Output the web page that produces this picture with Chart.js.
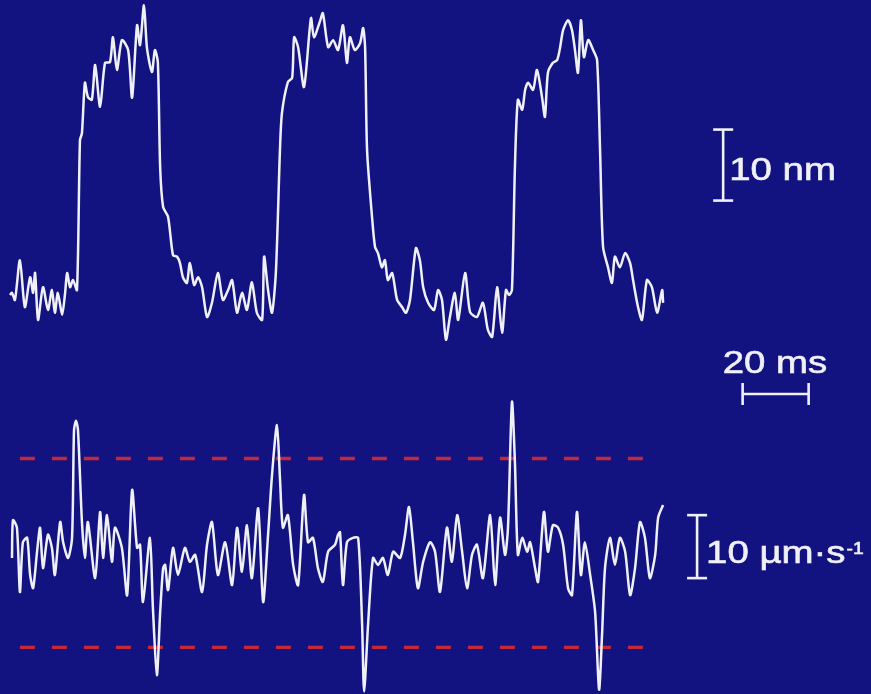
<!DOCTYPE html>
<html>
<head>
<meta charset="utf-8">
<script src="https://cdn.jsdelivr.net/npm/chart.js@4/dist/chart.umd.min.js"></script>
<style>
  html, body { margin: 0; padding: 0; background: #121380; }
  canvas { display: block; }
</style>
</head>
<body>
<canvas id="trace" width="871" height="694"></canvas>
<script>
// Bead displacement (time in ms, position in nm)
const displacement = [
  [0,0.7],[0.6,1.0],[1.5,0],[3.0,5.6],[4.5,-1.0],[6.1,3.2],[7.0,1.0],[7.6,3.8],[8.5,-2.8],[10.0,1.8],
  [11.5,-1.4],[12.7,1.4],[13.6,-1.8],[14.5,1.0],[15.8,-2.1],[16.7,1.0],[17.3,3.8],[18.2,1.8],[19.1,2.8],[20.3,1.4],
  [21.2,22.5],[21.8,23.5],[22.7,30.6],[23.6,28.6],[24.8,28.2],[25.8,33.1],[27.3,27.2],[28.8,33.4],[30.3,33.5],[31.2,37.0],
  [32.4,32.4],[33.9,36.6],[35.8,35.2],[37.0,28.5],[38.5,38.7],[39.4,35.9],[40.6,41.5],[41.5,35.5],[43.0,32.1],[43.9,35.2],
  [44.8,33.5],[45.5,18.7],[46.4,13.1],[47.9,11.7],[49.4,6.3],[50.6,6.1],[51.5,5.2],[52.4,3.2],[53.6,2.4],[54.5,5.2],
  [55.8,2.1],[57.0,3.2],[58.2,1.8],[59.7,-2.4],[61.2,-0.4],[63.0,3.8],[64.5,0],[66.1,1.4],[67.3,2.8],[68.8,-1.8],
  [70.3,1.0],[71.8,-1.4],[73.3,2.5],[74.8,-1.8],[76.4,-2.8],[77.0,6.1],[78.2,1.4],[79.4,-1.8],[80.6,4.2],[81.8,21.1],
  [82.4,26.3],[84.2,30.7],[85.5,31.3],[86.1,37.0],[87.3,35.6],[89.1,30.0],[91.2,39.7],[92.1,37.0],[93.9,39.2],[94.8,40.4],
  [96.4,35.6],[97.9,36.6],[99.4,35.2],[100.9,38.7],[102.1,33.4],[103.0,37.0],[104.5,35.2],[106.1,36.2],[107.0,38.3],[107.6,35.6],
  [108.2,21.1],[109.7,11.7],[110.6,7.5],[111.5,6.6],[112.7,4.6],[113.6,5.6],[114.5,2.8],[115.8,3.8],[117.3,0],[118.8,-1.0],
  [120.0,-1.8],[121.2,0],[123.0,7.3],[124.2,5.6],[125.2,1.8],[126.7,-0.4],[128.5,-1.4],[129.7,1.4],[130.9,0],[132.1,-5.6],
  [133.3,-2.4],[134.8,1.0],[135.8,-2.8],[137.9,3.8],[139.4,-1.7],[141.5,-2.4],[143.3,-0.4],[144.8,-4.2],[146.1,-5.2],[147.6,1.8],
  [149.1,-4.6],[150.3,1.4],[151.2,0.7],[152.1,1.4],[153.0,18.7],[153.9,28.2],[155.2,26.8],[156.1,29.6],[157.0,30.6],[158.5,29.6],
  [159.7,32.4],[161.2,28.6],[162.1,25.8],[163.0,32.0],[164.5,33.4],[165.8,33.8],[166.7,35.6],[167.6,38.0],[169.1,39.4],[170.3,38.0],
  [171.2,35.2],[172.1,32.0],[173.0,39.4],[173.9,34.2],[175.2,36.6],[176.7,35.2],[177.9,33.8],[178.8,21.1],[179.7,7.5],[181.2,4.6],
  [182.4,2.4],[183.3,6.1],[184.8,4.6],[186.4,6.6],[187.9,5.2],[188.8,2.8],[190.3,-1.0],[191.5,-2.8],[193.0,2.8],[194.5,1.8],
  [196.1,-1.8],[197.6,1.4],[197.9,-0.4]
];

// Bead velocity (time in ms, velocity in µm·s⁻¹)
const velocity = [
  [0.6,-0.8],[0.9,5.2],[2.1,4.0],[3.0,-6.2],[3.9,1.7],[5.2,2.4],[6.1,-3.5],[7.0,-5.6],[8.2,0.2],[9.1,4.0],
  [10.0,-2.4],[11.5,2.9],[12.7,0.8],[13.6,-3.5],[15.2,4.9],[16.1,1.7],[17.6,-0.8],[18.8,2.4],[19.4,19.5],[20.0,21.0],
  [20.6,19.5],[21.8,4.9],[22.7,-0.8],[23.6,4.9],[25.8,-4.0],[27.3,6.5],[28.2,-0.8],[29.4,6.0],[30.9,-1.4],[31.8,4.0],
  [33.9,0.8],[35.5,-6.7],[37.0,10.0],[38.5,0.8],[39.4,1.3],[40.3,-7.8],[42.4,2.4],[43.3,-8.7],[44.5,-19.4],[45.5,-9.4],
  [46.4,-2.4],[47.0,-1.9],[47.9,-5.9],[49.4,0.8],[50.9,-3.5],[53.0,0.8],[54.5,-1.4],[56.1,-0.3],[58.2,-6.2],[59.7,1.3],
  [61.2,4.9],[63.0,-3.5],[65.2,1.7],[67.3,-5.1],[68.8,4.0],[70.3,-3.0],[71.8,4.4],[73.3,-4.0],[75.2,7.1],[76.7,-7.8],
  [78.2,2.9],[79.4,12.4],[80.9,20.3],[81.8,11.9],[82.7,4.0],[84.2,6.0],[85.8,-1.9],[87.3,-5.1],[89.1,9.2],[90.3,1.7],
  [91.8,2.4],[93.3,-2.4],[94.8,-4.6],[96.4,0.2],[98.5,1.3],[99.4,2.9],[100.0,3.3],[100.9,-5.1],[102.1,1.7],[103.9,2.4],
  [105.5,2.4],[106.7,-11.4],[107.3,-22.0],[108.5,-11.4],[110.0,-0.8],[111.5,-1.9],[113.0,-0.8],[114.5,-3.5],[116.1,0.2],[118.2,-0.8],
  [119.7,2.9],[120.9,7.3],[122.1,1.7],[123.6,-5.6],[125.2,-1.4],[127.3,1.7],[128.8,0.2],[130.3,-6.2],[132.4,4.0],[133.9,-1.4],
  [135.5,6.0],[137.0,0.2],[138.5,-5.6],[140.0,-0.3],[141.5,1.3],[143.3,-4.0],[145.5,6.0],[147.0,-5.1],[148.5,5.6],[150.0,-0.3],
  [150.9,4.0],[152.1,24.0],[153.0,14.4],[153.9,-0.3],[155.2,2.4],[156.7,0.2],[157.6,1.7],[159.1,-2.4],[160.0,-4.6],[161.8,6.5],
  [163.0,0.2],[164.5,4.4],[166.1,4.0],[167.6,1.3],[169.1,-5.6],[170.3,-6.7],[171.8,6.5],[173.0,-3.5],[174.2,1.7],[175.8,-3.5],
  [177.3,-9.4],[178.5,-21.7],[179.4,-13.0],[180.3,-2.4],[181.8,2.4],[183.3,-1.9],[184.8,2.4],[186.4,0.2],[187.9,-6.7],[189.4,-2.4],
  [190.9,4.9],[192.4,2.4],[193.9,-4.0],[195.5,-0.3],[196.4,5.6],[197.9,7.6]
];

// Velocity threshold (µm·s⁻¹) and the time span its guide lines cover (ms)
const velocityLimit = 15;
const limitSpan = [3, 192];

// Scale bars: [time position, from, to] in data units
const nmBar = [216.1, 14, 24];        // 10 nm
const timeBar = [222, 242];           // 20 ms
const velocityBar = [208.2, -4, 6];   // 10 µm·s⁻¹
const labels = { nm: '10 nm', ms: '20 ms', vel: '10 µm·s', velExp: '-1' };

const ink = '#f0f0f8';
const red = '#c22a3c';
const bg = '#121380';

const toXY = pts => pts.map(([t, v]) => ({ x: t, y: v }));

const backdrop = {
  id: 'backdrop',
  beforeDraw(chart) {
    const c = chart.ctx;
    c.save();
    c.fillStyle = bg;
    c.fillRect(0, 0, chart.width, chart.height);
    c.restore();
  }
};

const scaleBarPlugin = {
  id: 'scaleBars',
  afterDatasetsDraw(chart) {
    const c = chart.ctx;
    const sx = chart.scales.x, sn = chart.scales.yNm, sv = chart.scales.yVel;
    c.save();
    c.strokeStyle = ink;
    c.fillStyle = ink;
    c.lineWidth = 2.6;
    c.lineCap = 'butt';
    const seg = (x0, y0, x1, y1) => { c.beginPath(); c.moveTo(x0, y0); c.lineTo(x1, y1); c.stroke(); };
    const vbar = (x, y0, y1) => { seg(x, y0, x, y1); seg(x - 10, y0, x + 10, y0); seg(x - 10, y1, x + 10, y1); };

    // 10 nm
    const nx = sx.getPixelForValue(nmBar[0]);
    vbar(nx, sn.getPixelForValue(nmBar[1]), sn.getPixelForValue(nmBar[2]));
    // 10 µm·s⁻¹
    const vx = sx.getPixelForValue(velocityBar[0]);
    vbar(vx, sv.getPixelForValue(velocityBar[1]), sv.getPixelForValue(velocityBar[2]));
    // 20 ms
    const tx0 = sx.getPixelForValue(timeBar[0]), tx1 = sx.getPixelForValue(timeBar[1]);
    const ty = 394;
    seg(tx0, ty, tx1, ty);
    seg(tx0, ty - 11, tx0, ty + 11);
    seg(tx1, ty - 11, tx1, ty + 11);

    const text = (str, x, y, size) => {
      c.save();
      c.translate(x, y);
      c.scale(1.2, 1);
      c.font = size + 'px "Liberation Sans", Arial, sans-serif';
      c.textBaseline = 'alphabetic';
      c.textAlign = 'left';
      c.lineWidth = 0.6;
      c.fillText(str, 0, 0);
      c.strokeText(str, 0, 0);
      const w = c.measureText(str).width * 1.2;
      c.restore();
      return w;
    };
    text(labels.nm, nx + 6, 180, 32);
    text(labels.ms, tx0 - 20, 373, 32);
    const w = text(labels.vel, vx + 9, 563, 32);
    text(labels.velExp, vx + 9 + w + 1, 554, 16);
    c.restore();
  }
};

const traceStyle = { borderColor: ink, borderWidth: 2.5, pointRadius: 0, tension: 0.25, fill: false };

new Chart(document.getElementById('trace'), {
  type: 'line',
  data: {
    datasets: [
      { ...traceStyle, data: toXY(displacement), yAxisID: 'yNm' },
      { ...traceStyle, data: toXY(velocity), yAxisID: 'yVel' },
      { data: limitSpan.map(t => ({ x: t, y: velocityLimit })), yAxisID: 'yVel',
        borderColor: red, borderWidth: 3.4, borderDash: [15, 17], pointRadius: 0 },
      { data: limitSpan.map(t => ({ x: t, y: -velocityLimit })), yAxisID: 'yVel',
        borderColor: red, borderWidth: 3.4, borderDash: [15, 17], pointRadius: 0 }
    ]
  },
  options: {
    responsive: false,
    animation: false,
    clip: false,
    layout: { padding: 0 },
    events: [],
    plugins: { legend: { display: false }, tooltip: { enabled: false } },
    scales: {
      x: { type: 'linear', min: -3.03, max: 260.9, display: false },
      yNm: { type: 'linear', min: -55.5, max: 42.25, display: false },
      yVel: { type: 'linear', min: -22.4, max: 87.8, display: false }
    }
  },
  plugins: [backdrop, scaleBarPlugin]
});
</script>
</body>
</html>
